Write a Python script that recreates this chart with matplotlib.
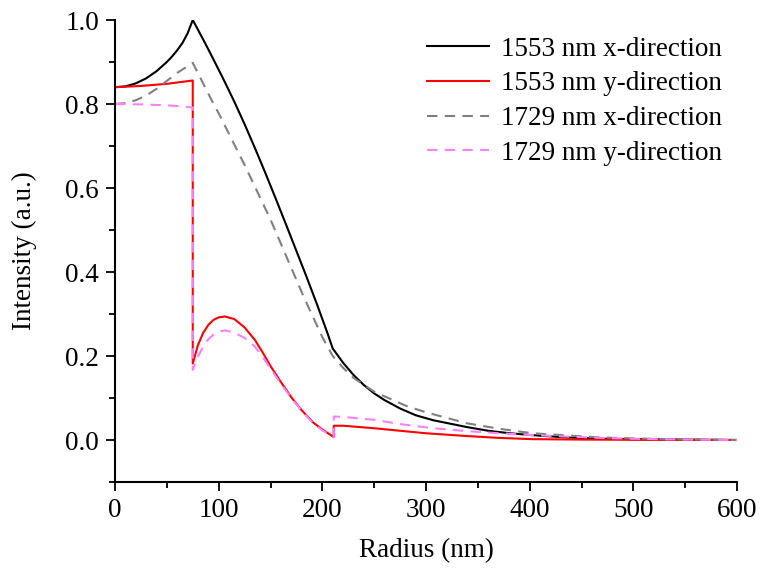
import numpy as np
import matplotlib
matplotlib.use("Agg")
import matplotlib.pyplot as plt

plt.rcParams['font.family'] = ['Liberation Serif', 'DejaVu Serif']

# 1553 nm x-direction
r_1553x = [0, 10, 20, 30, 40, 50, 55, 60, 65, 70, 75,
           85, 95, 105, 115, 125, 135, 145, 155, 165, 175, 185, 195, 205, 210,
           220, 230, 240, 250, 260, 275, 290, 307, 325, 339, 360, 381, 400, 436, 470, 500, 550, 600]
i_1553x = [0.840, 0.842, 0.849, 0.861, 0.878, 0.900, 0.913, 0.928, 0.945, 0.968, 1.000,
           0.954, 0.906, 0.857, 0.806, 0.752, 0.695, 0.636, 0.575, 0.513, 0.450, 0.387, 0.322,
           0.254, 0.218,
           0.184, 0.155, 0.131, 0.111, 0.095, 0.075, 0.059, 0.047, 0.038, 0.031, 0.022, 0.016,
           0.012, 0.006, 0.003, 0.002, 0.001, 0.0]

# 1553 nm y-direction
r_1553y = [0, 25, 50, 75, 75, 80, 85, 90, 95, 100, 106, 115, 125, 135, 143, 150, 160, 170, 180,
           191, 200, 211, 211, 220, 250, 275, 300, 339, 370, 403, 450, 500, 600]
i_1553y = [0.840, 0.843, 0.848, 0.856, 0.182, 0.226, 0.255, 0.274, 0.286, 0.292, 0.294, 0.288,
           0.268, 0.238, 0.206, 0.176, 0.138, 0.102, 0.071, 0.042, 0.025, 0.007, 0.034, 0.034,
           0.028, 0.022, 0.016, 0.0095, 0.005, 0.002, 0.001, 0.0005, 0.0]

# 1729 nm x-direction
r_1729x = [0, 10, 20, 30, 40, 50, 60, 70, 75, 93, 100, 125, 150, 182, 200, 210,
           220, 230, 250, 281, 300, 339, 370, 403, 468, 530, 600]
i_1729x = [0.800, 0.802, 0.809, 0.820, 0.836, 0.855, 0.874, 0.890, 0.898, 0.810, 0.778, 0.655,
           0.525, 0.341, 0.245, 0.200,
           0.172, 0.148, 0.115, 0.081, 0.066, 0.040, 0.027, 0.016, 0.006, 0.002, 0.0]

# 1729 nm y-direction
r_1729y = [0, 25, 50, 75, 75, 80, 85, 90, 95, 100, 106, 115, 125, 135, 143, 150, 160, 170, 180,
           191, 200, 211, 211, 220, 250, 275, 307, 340, 371, 400, 436, 470, 500, 550, 600]
i_1729y = [0.800, 0.799, 0.797, 0.792, 0.167, 0.199, 0.222, 0.240, 0.251, 0.258, 0.261, 0.256,
           0.243, 0.222, 0.196, 0.170, 0.134, 0.100, 0.070, 0.040, 0.023, 0.007, 0.056, 0.055,
           0.048, 0.038, 0.028, 0.021, 0.016, 0.012, 0.008, 0.005, 0.003, 0.001, 0.0]

x_ticks = [0, 100, 200, 300, 400, 500, 600]
y_ticks = [0.0, 0.2, 0.4, 0.6, 0.8, 1.0]

fig = plt.figure(figsize=(7.64, 5.82), dpi=100)
ax = fig.add_axes([115/764, 1-482/582, (737-115)/764, (482-20)/582])

lw = 1.5
ax.plot(r_1553x, i_1553x, color='black', lw=lw, label='1553 nm x-direction')
ax.plot(r_1553y, i_1553y, color='#ff0000', lw=lw, label='1553 nm y-direction')
ax.plot(r_1729x, i_1729x, color='#808080', lw=lw, dashes=(5, 3.5), label='1729 nm x-direction')
ax.plot(r_1729y, i_1729y, color='#ff80ff', lw=lw, dashes=(5, 3.5), label='1729 nm y-direction')

ax.set_xlim(0, 600)
ax.set_ylim(-0.1, 1.0)
ax.set_xticks(x_ticks)
ax.set_xticklabels([str(v) for v in x_ticks])
ax.set_yticks(y_ticks)
ax.set_yticklabels([f"{v:.1f}" for v in y_ticks])
ax.set_xticks(np.arange(50, 600, 100), minor=True)
ax.set_yticks([-0.1, 0.1, 0.3, 0.5, 0.7, 0.9], minor=True)

for s in ['top', 'right']:
    ax.spines[s].set_visible(False)
for s in ['left', 'bottom']:
    ax.spines[s].set_linewidth(1.5)

ax.tick_params(which='major', direction='out', length=6.5, width=1.3, labelsize=19.5, pad=5)
ax.tick_params(which='minor', direction='out', length=4, width=1.3)

ax.set_xlabel('Radius (nm)', fontsize=19.5, labelpad=11)
ax.set_ylabel('Intensity (a.u.)', fontsize=19.5, labelpad=20)

leg = ax.legend(loc='upper right', bbox_to_anchor=(0.9936, 0.9874), frameon=False, fontsize=19.5,
                handlelength=2.3, handletextpad=0.45, labelspacing=0.36, borderaxespad=0.0)

fig.savefig('out.png', dpi=100)
